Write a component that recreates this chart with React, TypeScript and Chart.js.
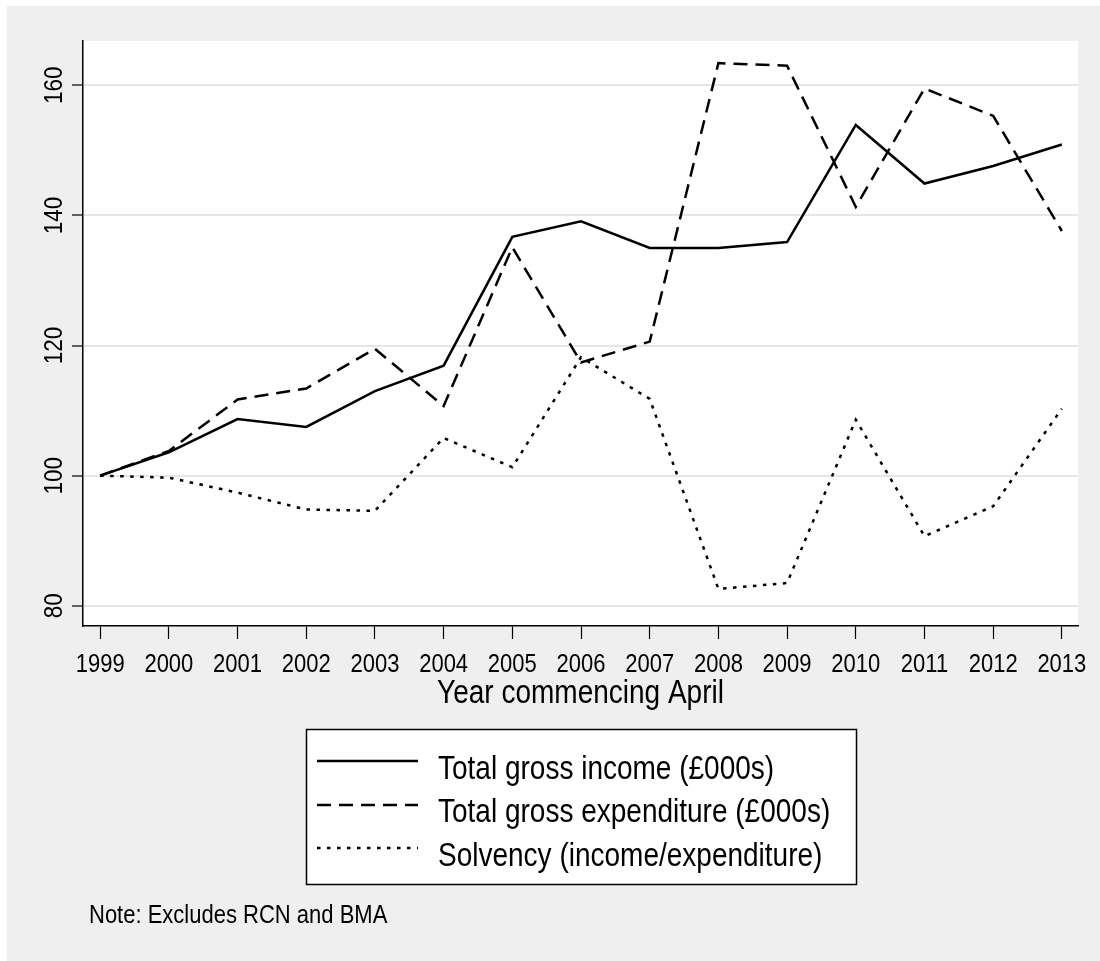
import React, { useEffect, useRef } from "react";
import { Chart, registerables } from "chart.js";

Chart.register(...registerables);

// ---- data ----
const years = [1999, 2000, 2001, 2002, 2003, 2004, 2005, 2006, 2007, 2008, 2009, 2010, 2011, 2012, 2013];
const xTickLabels = ["1999", "2000", "2001", "2002", "2003", "2004", "2005", "2006", "2007", "2008", "2009", "2010", "2011", "2012", "2013"];
const yTicks = [80, 100, 120, 140, 160];
const yTickLabels = ["80", "100", "120", "140", "160"];
const income = [100, 103.6, 108.7, 107.5, 113.0, 116.9, 136.7, 139.1, 135.0, 135.0, 135.9, 153.9, 144.9, 147.6, 150.9];
const expenditure = [100, 103.8, 111.7, 113.4, 119.5, 110.7, 135.1, 117.4, 120.6, 163.4, 163.0, 141.3, 159.5, 155.3, 137.6];
const solvency = [100, 99.7, 97.4, 94.8, 94.6, 105.8, 101.3, 118.2, 111.8, 82.6, 83.5, 108.6, 90.7, 95.3, 110.3];
const seriesNames = ["Total gross income (£000s)", "Total gross expenditure (£000s)", "Solvency (income/expenditure)"];
const seriesDashes: number[][] = [[], [14, 8], [3.5, 6.5]];
const xTitle = "Year commencing April";
const noteText = "Note: Excludes RCN and BMA";

const FONT = '"Liberation Sans", Arial, sans-serif';
const STRETCH = 1.16;

function txt(ctx: CanvasRenderingContext2D, text: string, x: number, y: number, size: number, align: CanvasTextAlign, rotate = false) {
  ctx.save();
  ctx.translate(x, y);
  if (rotate) ctx.rotate(-Math.PI / 2);
  ctx.scale(1, STRETCH);
  ctx.font = `${size}px ${FONT}`;
  ctx.textAlign = align;
  ctx.textBaseline = "alphabetic";
  ctx.fillStyle = "#000";
  ctx.fillText(text, 0, 0);
  ctx.restore();
}

const decorPlugin = {
  id: "decor",
  beforeDraw(chart: any) {
    const ctx = chart.ctx as CanvasRenderingContext2D;
    const { width, height, chartArea } = chart;
    ctx.save();
    ctx.fillStyle = "#ffffff";
    ctx.fillRect(0, 0, width, height);
    ctx.fillStyle = "#efefef";
    ctx.fillRect(7, 6, width - 7, height - 6);
    ctx.fillStyle = "#ffffff";
    ctx.fillRect(chartArea.left, chartArea.top, chartArea.right - chartArea.left, chartArea.bottom - chartArea.top);
    ctx.restore();
  },
  afterDraw(chart: any) {
    const ctx = chart.ctx as CanvasRenderingContext2D;
    const xs = chart.scales.x;
    const ys = chart.scales.y;
    const ca = chart.chartArea;
    // y tick labels (rotated)
    yTicks.forEach((v, i) => {
      txt(ctx, yTickLabels[i], 62, ys.getPixelForValue(v), 22.5, "center", true);
    });
    // x tick labels
    years.forEach((v, i) => {
      txt(ctx, xTickLabels[i], xs.getPixelForValue(v), 672, 22, "center");
    });
    // x title
    txt(ctx, xTitle, (ca.left + ca.right) / 2, 703, 28, "center");
    // legend
    const bx = 306, by = 729, bw = 550, bh = 155;
    ctx.save();
    ctx.fillStyle = "#ffffff";
    ctx.fillRect(bx, by, bw, bh);
    ctx.strokeStyle = "#000";
    ctx.lineWidth = 1.5;
    ctx.strokeRect(bx + 0.5, by + 0.5, bw, bh);
    ctx.restore();
    const lineYs = [761, 805, 848];
    const baseYs = [779, 822, 866];
    seriesNames.forEach((name, i) => {
      ctx.save();
      ctx.strokeStyle = "#000";
      ctx.lineWidth = 2.5;
      ctx.setLineDash(seriesDashes[i]);
      ctx.beginPath();
      ctx.moveTo(317, lineYs[i]);
      ctx.lineTo(418, lineYs[i]);
      ctx.stroke();
      ctx.restore();
      txt(ctx, name, 438, baseYs[i], 28, "left");
    });
    // note
    txt(ctx, noteText, 89, 923, 22, "left");
  },
};

export default function App() {
  const ref = useRef<HTMLCanvasElement | null>(null);
  useEffect(() => {
    if (!ref.current) return;
    const mk = (vals: number[]) => years.map((y, i) => ({ x: y, y: vals[i] }));
    const chart = new Chart(ref.current, {
      type: "line",
      data: {
        datasets: [income, expenditure, solvency].map((vals, i) => ({
          label: seriesNames[i],
          data: mk(vals),
          borderColor: "#000",
          borderWidth: 2.5,
          borderDash: seriesDashes[i],
          pointRadius: 0,
          fill: false,
          tension: 0,
        })),
      },
      options: {
        responsive: false,
        animation: false,
        layout: { padding: { left: 23, right: 22, top: 41, bottom: 315 } },
        plugins: { legend: { display: false }, tooltip: { enabled: false } },
        scales: {
          x: {
            type: "linear",
            min: 1998.75,
            max: 2013.235,
            afterBuildTicks: (s: any) => { s.ticks = years.map((v) => ({ value: v })); },
            afterFit: (s: any) => { s.height = 20; },
            ticks: { display: false, includeBounds: false },
            grid: { drawOnChartArea: false, drawTicks: true, tickLength: 13, tickColor: "#000", tickWidth: 1.2 },
            border: { display: true, color: "#000", width: 1.5 },
          },
          y: {
            type: "linear",
            min: 76.9,
            max: 166.8,
            afterBuildTicks: (s: any) => { s.ticks = yTicks.map((v) => ({ value: v })); },
            afterFit: (s: any) => { s.width = 60; },
            ticks: { display: false, includeBounds: false },
            grid: { color: "#e6e6e6", lineWidth: 2, drawTicks: true, tickLength: 11, tickColor: "#000", tickWidth: 1.2 },
            border: { display: true, color: "#000", width: 1.5 },
          },
        },
      },
      plugins: [decorPlugin],
    } as any);
    return () => chart.destroy();
  }, []);
  return (
    <div style={{ position: "absolute", left: 0, top: 0, width: 1100, height: 961 }}>
      <canvas ref={ref} width={1100} height={961} style={{ display: "block" }} />
    </div>
  );
}
